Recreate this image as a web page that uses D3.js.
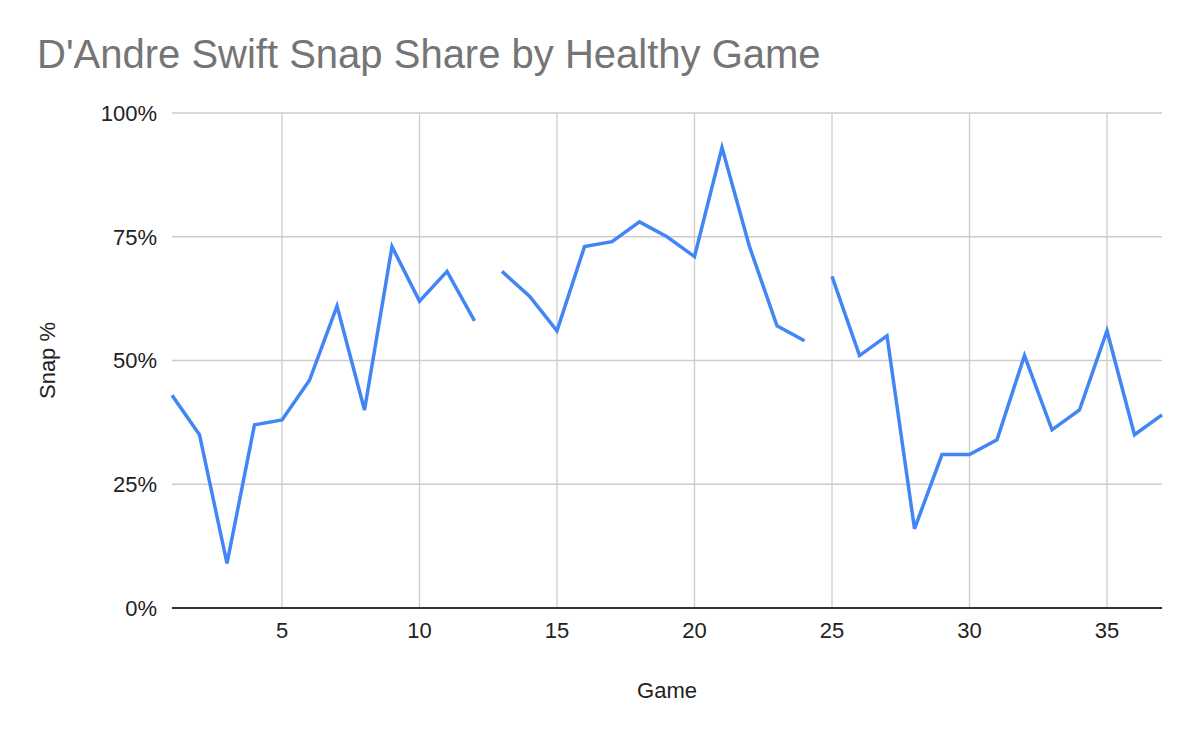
<!DOCTYPE html>
<html>
<head>
<meta charset="utf-8">
<script src="https://cdn.jsdelivr.net/npm/d3@7"></script>
<style>
  body { margin: 0; background: #fff; }
  text { font-family: "Liberation Sans", Arial, sans-serif; }
</style>
</head>
<body>
<div id="chart"></div>
<script>
// game number and snap share; null marks a break in the line
const games = [1, 2, 3, 4, 5, 6, 7, 8, 9, 10, 11, 12, 12.5, 13, 14, 15, 16, 17, 18, 19, 20, 21, 22, 23, 24, 24.5,
               25, 26, 27, 28, 29, 30, 31, 32, 33, 34, 35, 36, 37];
const snapPct = [43, 35, 9, 37, 38, 46, 61, 40, 73, 62, 68, 58, null, 68, 63, 56, 73, 74, 78, 75, 71, 93, 73, 57, 54, null,
                 67, 51, 55, 16, 31, 31, 34, 51, 36, 40, 56, 35, 39];
const xTicks = [5, 10, 15, 20, 25, 30, 35];
const yTicks = [0, 25, 50, 75, 100];

const width = 1200, height = 742;
const margin = { top: 113, right: 38, bottom: 134, left: 172 };

const svg = d3.select("#chart").append("svg")
    .attr("width", width)
    .attr("height", height);

const x = d3.scaleLinear().domain([1, 37]).range([margin.left, width - margin.right]);
const y = d3.scaleLinear().domain([0, 100]).range([height - margin.bottom, margin.top]);

svg.append("text")
    .attr("x", 37)
    .attr("y", 68)
    .attr("font-size", 40)
    .attr("fill", "#757575")
    .text("D'Andre Swift Snap Share by Healthy Game");

// gridlines
svg.append("g")
    .selectAll("line")
    .data(yTicks)
    .join("line")
    .attr("x1", margin.left)
    .attr("x2", width - margin.right)
    .attr("y1", d => y(d))
    .attr("y2", d => y(d))
    .attr("stroke", "#cccccc")
    .attr("stroke-width", 1.3);

svg.append("g")
    .selectAll("line")
    .data(xTicks)
    .join("line")
    .attr("x1", d => x(d))
    .attr("x2", d => x(d))
    .attr("y1", margin.top)
    .attr("y2", height - margin.bottom)
    .attr("stroke", "#cccccc")
    .attr("stroke-width", 1.3);

// baseline
svg.append("line")
    .attr("x1", margin.left)
    .attr("x2", width - margin.right)
    .attr("y1", y(0))
    .attr("y2", y(0))
    .attr("stroke", "#333333")
    .attr("stroke-width", 1.8);

// tick labels
svg.append("g")
    .selectAll("text")
    .data(yTicks)
    .join("text")
    .attr("x", margin.left - 15)
    .attr("y", d => y(d))
    .attr("dy", "0.36em")
    .attr("text-anchor", "end")
    .attr("font-size", 22)
    .attr("fill", "#222")
    .text(d => d + "%");

svg.append("g")
    .selectAll("text")
    .data(xTicks)
    .join("text")
    .attr("x", d => x(d))
    .attr("y", 638)
    .attr("text-anchor", "middle")
    .attr("font-size", 22)
    .attr("fill", "#222")
    .text(d => d);

// axis titles
svg.append("text")
    .attr("x", (margin.left + width - margin.right) / 2)
    .attr("y", 698)
    .attr("text-anchor", "middle")
    .attr("font-size", 22)
    .attr("fill", "#222")
    .text("Game");

svg.append("text")
    .attr("transform", `translate(55,${(margin.top + height - margin.bottom) / 2}) rotate(-90)`)
    .attr("text-anchor", "middle")
    .attr("font-size", 22)
    .attr("fill", "#222")
    .text("Snap %");

// series line
const points = games.map((g, i) => ({ g: g, v: snapPct[i] }));

const line = d3.line()
    .defined(d => d.v !== null)
    .x(d => x(d.g))
    .y(d => y(d.v));

svg.append("path")
    .datum(points)
    .attr("d", line)
    .attr("fill", "none")
    .attr("stroke", "#4285f4")
    .attr("stroke-width", 3.5)
    .attr("stroke-linejoin", "miter");
</script>
</body>
</html>
